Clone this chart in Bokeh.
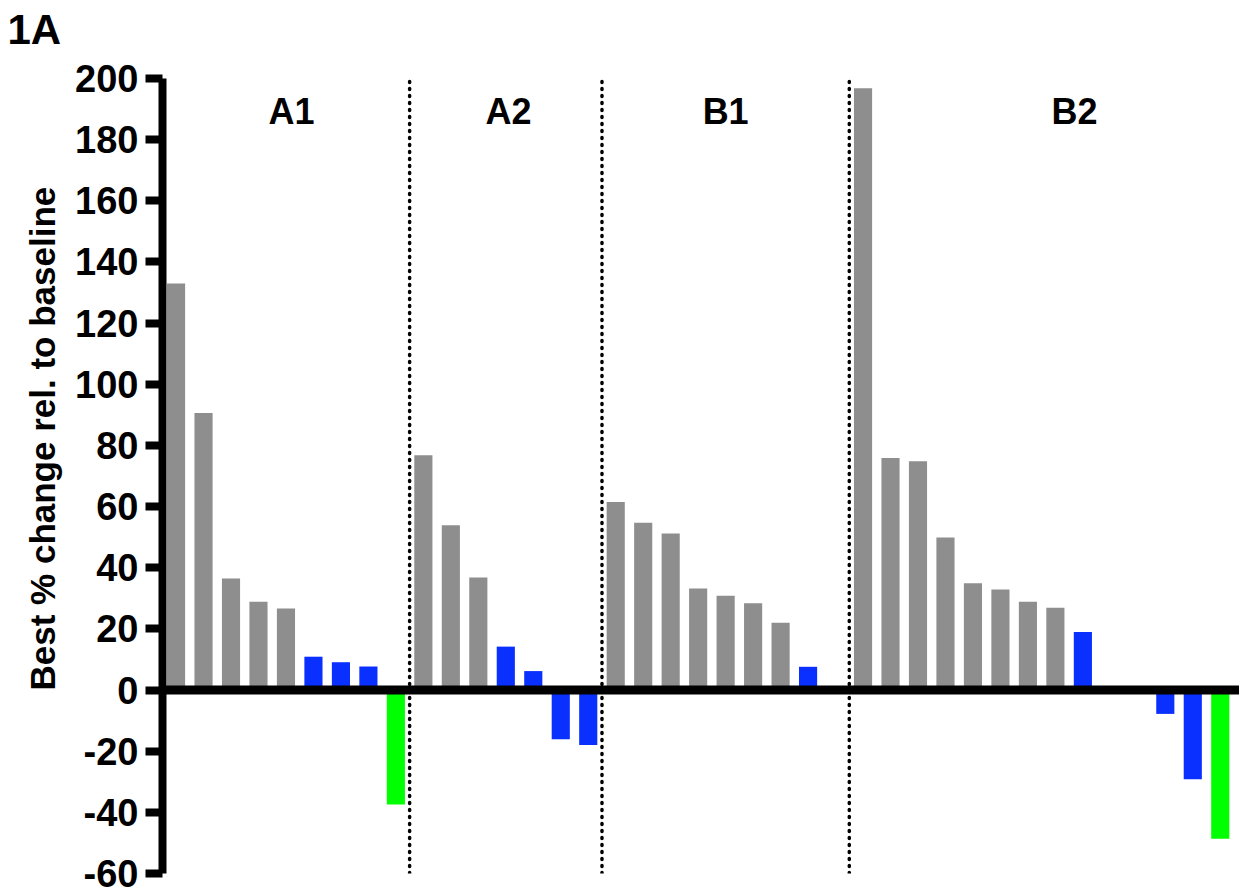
from bokeh.plotting import figure
from bokeh.models import ColumnDataSource, Span, FixedTicker, Title
from bokeh.core.properties import value
from bokeh.embed import file_html
from bokeh.resources import INLINE

# ---- data ----
groups = ["A1", "A2", "B1", "B2"]
a1_values = [133.0, 90.6, 36.5, 28.9, 26.7, 10.9, 9.1, 7.7, -37.4]
a1_resp = ["PD", "PD", "PD", "PD", "PD", "SD", "SD", "SD", "PR"]
a2_values = [76.8, 53.9, 36.8, 14.2, 6.2, -16.1, -18.0]
a2_resp = ["PD", "PD", "PD", "SD", "SD", "SD", "SD"]
b1_values = [61.5, 54.7, 51.2, 33.2, 30.8, 28.4, 22.0, 7.6, None]
b1_resp = ["PD", "PD", "PD", "PD", "PD", "PD", "PD", "SD", None]
b2_values = [196.8, 75.9, 74.8, 49.9, 34.9, 32.9, 28.9, 26.9, 19.0, None, None, -7.8, -29.2, -48.6]
b2_resp = ["PD", "PD", "PD", "PD", "PD", "PD", "PD", "PD", "SD", None, None, "SD", "SD", "PR"]
y_ticks = [-60, -40, -20, 0, 20, 40, 60, 80, 100, 120, 140, 160, 180, 200]
y_tick_labels = ["-60", "-40", "-20", "0", "20", "40", "60", "80", "100", "120", "140", "160", "180", "200"]
y_title = "Best % change rel. to baseline"
panel_title = "1A"

resp_colors = {"PD": "#8E8E8E", "SD": "#0A30FF", "PR": "#00FF00"}

group_values = [a1_values, a2_values, b1_values, b2_values]
group_resp = [a1_resp, a2_resp, b1_resp, b2_resp]

xs, tops, cols = [], [], []
dividers = []
group_centers = []
slot = 0
for gi, (vals, resp) in enumerate(zip(group_values, group_resp)):
    start = slot
    for v, r in zip(vals, resp):
        if v is not None:
            xs.append(slot)
            tops.append(v)
            cols.append(resp_colors[r])
        slot += 1
    group_centers.append((start + slot - 1) / 2.0)
    if gi < len(group_values) - 1:
        dividers.append(slot - 0.5)

label_x = [group_centers[0] + 0.2, group_centers[1] + 0.1, group_centers[2], group_centers[3] + 1.2]

src = ColumnDataSource(dict(x=xs, top=tops, color=cols))

FONT = "Liberation Sans"
y_lo, y_hi = y_ticks[0], y_ticks[-1]

p = figure(width=1239, height=892, output_backend="svg", toolbar_location=None,
           x_range=(-0.493, 38.70), y_range=(y_lo, y_hi + 7.2), x_axis_location=None,
           min_border_left=162, min_border_top=56, min_border_bottom=19, min_border_right=0)
p.outline_line_color = None
p.xgrid.visible = False
p.ygrid.visible = False
p.background_fill_color = "white"

p.vbar(x="x", top="top", bottom=0, width=0.66, color="color", line_color=None, source=src)

p.segment(x0=dividers, y0=[y_lo] * len(dividers), x1=dividers, y1=[y_hi + 0.7] * len(dividers),
          line_color="black", line_width=3.5, line_dash="1 6", line_cap="round")

p.add_layout(Span(location=0, dimension="width", line_color="black", line_width=9))

p.text(x=label_x, y=[189.3] * 4, text=groups, text_font=value(FONT), text_font_style="bold",
       text_font_size="36px", text_align="center", text_baseline="alphabetic", text_color="black")

ax = p.yaxis[0]
ax.ticker = FixedTicker(ticks=y_ticks)
ax.bounds = (y_lo, y_hi)
ax.major_label_overrides = {t: s for t, s in zip(y_ticks, y_tick_labels)}
ax.axis_line_width = 8
ax.axis_line_color = "black"
ax.major_tick_line_width = 8
ax.major_tick_line_color = "black"
ax.major_tick_out = 17
ax.major_tick_in = 0
ax.minor_tick_line_color = None
ax.major_label_text_font = FONT
ax.major_label_text_font_style = "bold"
ax.major_label_text_font_size = "38px"
ax.major_label_text_color = "black"
ax.major_label_standoff = 7

p.add_layout(Title(text=y_title, align="left", vertical_align="top", offset=183, standoff=18,
                   text_font=FONT, text_font_style="bold", text_font_size="35px",
                   text_color="black"), "left")

p.title.text = panel_title
p.title.text_font = FONT
p.title.text_font_style = "bold"
p.title.text_font_size = "42px"
p.title.text_color = "black"
p.title.align = "left"
p.title.vertical_align = "top"
p.title.offset = -155
p.title.standoff = 4

open("out.html", "w").write(file_html(p, INLINE))
